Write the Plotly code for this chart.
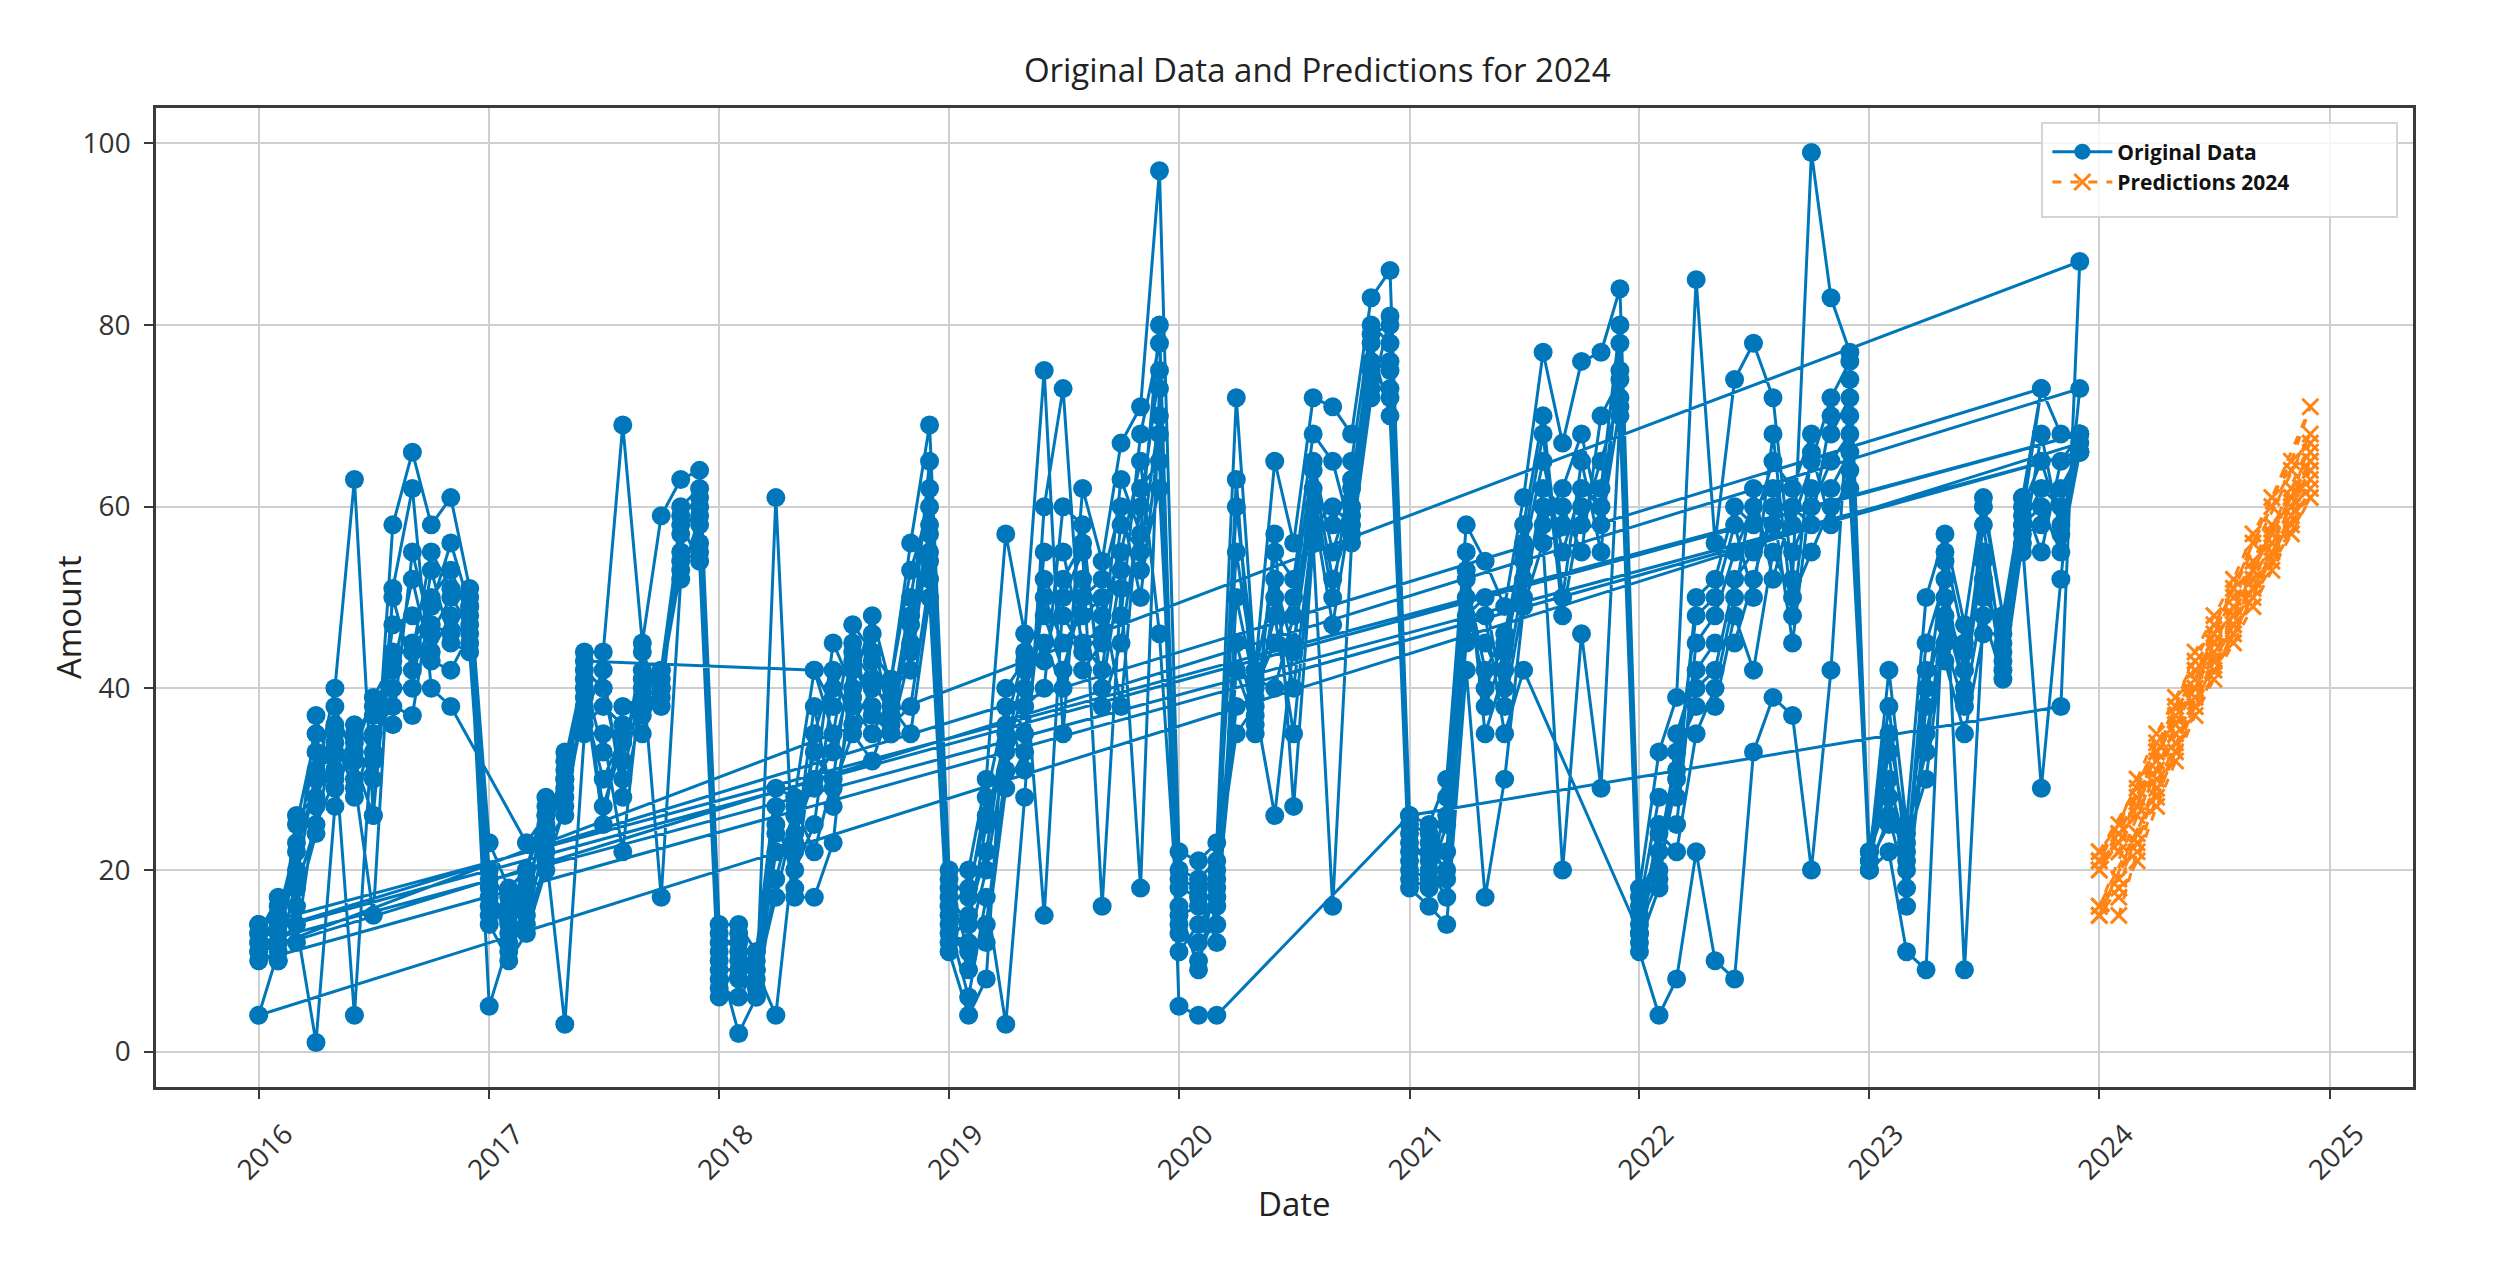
import pandas as pd
import plotly.graph_objects as go

N = None

# Monthly dates of the original data (2016-01 .. 2023-12) and of the 2024 predictions
months = pd.date_range("2016-01-01", "2023-12-01", freq="MS")
pred_months = pd.date_range("2024-01-01", "2024-12-01", freq="MS")

# Original data, one list per group (96 monthly values, None = month missing)
group_01 = [12, 14, 22, 30, 40, 63, 26, 58, 66, 58, 61, 51,
            23, 18, 20, 28, 28, 44, 44, 69, 45, 59, 63, 64,
            14, 14, 11, 29, 28, 42, 35, 47, 44, 41, 56, 69,
            20, 20, 30, 57, 46, 75, 35, 62, 54, 67, 71, 97,
            22, 21, 23, 72, 42, 65, 56, 72, 71, 68, 83, 86,
            26, 25, 30, 58, 54, 49, 61, 77, 67, 76, 77, 84,
            18, 33, 39, 85, 56, 74, 78, 72, 52, 99, 83, 77,
            21, 42, 25, 50, 57, 47, 61, 48, 61, 73, 68, 68]
group_02 = [13, 16, 18, 25, 30, 33, 39, 43, 45, 49, 56, 49,
            18, 14, 16, 22, 3, 35, 35, 22, 42, 17, 52, 59,
            10, 2, 6, 61, 17, 17, 23, 43, 38, 35, 48, 54,
            14, 6, 17, 3, 28, 60, 73, 42, 45, 63, 57, 80,
            11, 14, 17, 63, 35, 57, 27, 56, 16, 56, 72, 81,
            18, 16, 14, 42, 17, 30, 49, 56, 20, 46, 29, 70,
            11, 4, 8, 22, 10, 8, 33, 39, 37, 20, 42, 74,
            20, 22, 11, 9, 54, 9, 48, 41, 56, 29, 52, 73]
group_03 = [11, 10, 25, 35, 35, 30, 15, 51, 62, 40, 38, N,
            N, N, 23, 26, 30, 40, 25, 38, 39, 42, 58, 54,
            6, 10, 9, 4, 23, 33, 29, 35, 32, 38, 35, 50,
            11, 4, 8, 40, 43, 15, 50, 55, 16, 51, 18, 73,
            16, 9, 20, 35, 38, 26, 45, 60, 47, 60, 75, 76,
            20, 19, 25, 50, 40, 45, 55, 65, 55, 62, 60, 75,
            15, 20, 30, 40, 42, 52, 55, 58, 55, 60, 65, 68,
            22, 30, 22, 40, 48, 40, 55, 45, 58, 62, 60, 68]
group_04 = [14, 12, 14, 1, 27, 36, 33, 40, 40, 53, 45, 44,
            14, 10, 13, 20, 27, 38, 30, 35, 37, 40, 55, 56,
            12, 12, 8, 17, 26, 29, 45, 40, 48, 40, 42, 58,
            17, 14, 25, 35, 35, 50, 45, 48, 50, 38, 62, 65,
            18, 17, 12, 50, 40, 45, 50, 65, 55, 62, 78, 70,
            22, 22, 20, 45, 45, 40, 52, 60, 58, 58, 65, 72,
            13, 25, 25, 45, 48, 55, 60, 62, 58, 65, 72, 76,
            20, 26, 18, 35, 45, 38, 50, 47, 60, 65, 58, 67]
group_05 = [4, 11, 26, 28, 33, 4, 37, 36, 55, 46, 50, 47,
            5, 12, 19, 24, 32, 42, 40, 30, 41, 38, 60, 62,
            8, 8, 10, 25, 20, 25, 40, 44, 41, 37, 50, 62,
            13, 12, 20, 33, 40, 45, 40, 52, 48, 55, 65, 46,
            13, 12, 14, 42, 36, 50, 40, 58, 60, 58, 73, 73,
            19, 18, 28, 55, 35, 42, 58, 70, 50, 65, 55, 78,
            17, 22, 33, 38, 38, 48, 42, 55, 50, 55, 60, 62,
            21, 35, 24, 33, 50, 42, 58, 43, 57, 58, 62, 66]
group_06 = [10, 13, 20, 37, 29, 34, 30, 47, 48, 44, 48, 45,
            20, 16, 17, 27, 29, 43, N, N, N, N, N, N,
            N, N, N, N, N, 42, 38, 38, 35, 39, 45, 55,
            19, 17, 28, 38, 31, 55, 55, 45, 42, 58, 55, 70,
            20, 19, 21, 55, 41, 40, 48, 62, 50, 65, 80, 78,
            24, 20, 17, 48, 50, 38, 50, 62, 60, 55, 70, 74,
            16, 28, 28, 50, 52, 60, 58, 65, 62, 68, 68, 72,
            22, 28, 20, 42, 43, 35, 46, 46, 59, 73, N, N]
group_07 = [13, 17, 16, 24, 36, 28, 35, 38, 37, 50, 53, 48,
            17, 13, 14, 21, 33, 36, 38, 36, 35, 41, 53, 58,
            13, 11, 7, 22, 24, 30, 33, 42, 46, 36, 38, 52,
            15, 9, 14, 31, 38, 40, 60, 58, 38, 45, 60, 75,
            15, 16, 18, 45, 37, 55, 52, 68, 65, 57, 74, 72,
            21, 23, 22, 52, 42, 46, 56, 68, 48, 60, 62, 80,
            12, 18, 35, 42, 45, 45, 52, 60, 45, 62, 62, 66,
            20, 33, 16, 38, 55, 45, 52, 44, 58, 60, 55, 66]
group_08 = [12, 15, 23, 33, 31, 35, 38, 42, 52, 43, 42, 46,
            15, 17, 18, 25, 31, 41, 33, 32, 44, 39, 57, 60,
            9, 9, 11, 27, 18, 35, 42, 36, 40, 41, 53, 60,
            12, 15, 22, 36, 44, 48, 42, 50, 52, 60, 50, 68,
            5, 4, 4, N, N, N, N, N, N, N, N, N,
            26, N, N, N, N, N, N, N, N, N, N, N,
            N, N, N, N, N, N, N, N, N, N, N, N,
            N, N, N, N, N, N, N, N, N, N, 38, 87]
group_09 = [11, 12, 12, 27, 38, 32, 26, 50, 42, 47, 46, 50,
            19, 11, 15, 23, 26, 39, 27, 34, 40, 42, 54, 55,
            11, 13, 6, 19, 27, 22, 30, 45, 37, 35, 44, 65,
            18, 11, 12, 29, 33, 52, 48, 44, 46, 48, 68, 78,
            14, 10, 16, 38, 39, 48, 35, 57, 58, 63, 76, 75,
            23, 21, 26, 47, 48, 35, 42, N, N, N, N, N,
            13, 24, 22, 35, 40, 50, 62, 52, 60, 58, 70, 70,
            21, 25, 23, 30, 47, 44, 54, 42, 61, 55, 65, 68]
group_10 = [14, 10, 19, 31, 34, 29, 32, 44, 44, 55, 51, 49,
            16, 15, 20, 26, 30, 37, 42, 28, 38, 40, 59, 61,
            7, 6, 9, 24, 22, 38, 27, 39, 43, 38, 47, 57,
            16, 18, 26, 34, 42, 43, 52, 56, 40, 53, 53, 62,
            19, 18, 19, 60, 42, 52, 44, 64, 52, 59, 79, 80,
            25, 24, 19, 53, 38, 44, 54, 58, 62, 68, 58, 71,
            14, 19, 31, 48, 50, 58, 50, 68, 48, 66, 58, 64,
            22, 38, 21, 45, 52, 39, 60, 48, 55, 68, 57, 66]

# 2024 predictions, one list per group (12 monthly values)
pred_01 = [22, 24, 28, 33, 37, 42, 45, 49, 53, 57, 62, 66]
pred_02 = [20, 23, 27, 32, 38, 41, 46, 50, 54, 58, 61, 65]
pred_03 = [21, 22, 29, 34, 36, 40, 44, 48, 52, 56, 60, 64]
pred_04 = [15, 18, 24, 30, 35, 39, 43, 47, 51, 55, 59, 63]
pred_05 = [16, 15, 22, 28, 33, 38, 42, 46, 50, 54, 58, 62]
pred_06 = [22, 25, 30, 35, 39, 43, 47, 51, 56, 60, 64, 68]
pred_07 = [21, 24, 26, 31, 36, 40, 45, 48, 53, 57, 61, 67]
pred_08 = [15, 17, 21, 27, 32, 37, 41, 45, 49, 53, 57, 61]
pred_09 = [20, 22, 27, 33, 38, 44, 48, 52, 57, 61, 65, 71]
pred_10 = [16, 19, 23, 29, 34, 38, 43, 47, 52, 56, 60, 65]

year_ticks = ["2016", "2017", "2018", "2019", "2020", "2021", "2022", "2023", "2024", "2025"]
amount_ticks = [0, 20, 40, 60, 80, 100]

groups = [group_01, group_02, group_03, group_04, group_05,
          group_06, group_07, group_08, group_09, group_10]
preds = [pred_01, pred_02, pred_03, pred_04, pred_05,
         pred_06, pred_07, pred_08, pred_09, pred_10]

x_orig, y_orig = [], []
for g in groups:
    assert len(g) == len(months)
    x_orig.extend(months)
    y_orig.extend(g)

x_pred, y_pred = [], []
for p in preds:
    x_pred.extend(pred_months)
    y_pred.extend(p)

BLUE = "#0077bb"
ORANGE = "#ff8414"
FONT = "Open Sans, Noto Sans, DejaVu Sans, sans-serif"

fig = go.Figure()
fig.add_trace(go.Scatter(
    x=x_orig, y=y_orig, mode="lines+markers", name="Original Data",
    connectgaps=True,
    line=dict(color=BLUE, width=3),
    marker=dict(symbol="circle", size=19, color=BLUE),
))
fig.add_trace(go.Scatter(
    x=x_pred, y=y_pred, mode="lines+markers", name="Predictions 2024",
    line=dict(color=ORANGE, width=3, dash="dash"),
    marker=dict(symbol="x-thin", size=16, color=ORANGE,
                line=dict(color=ORANGE, width=3)),
))

axis_common = dict(
    showgrid=True, gridcolor="#cfcfcf", gridwidth=2,
    showline=True, linecolor="#3a3a3a", linewidth=2.5, mirror=True,
    ticks="outside", ticklen=9, tickwidth=2, tickcolor="#3a3a3a",
    tickfont=dict(family=FONT, size=28, color="#333333"),
    zeroline=False,
)

fig.update_layout(
    width=2489, height=1267,
    margin=dict(l=148, r=84, t=100, b=188),
    paper_bgcolor="white", plot_bgcolor="white",
    font=dict(family=FONT, color="#222222"),
    title=dict(text="Original Data and Predictions for 2024",
               x=0.526, xanchor="center", y=0.951, yanchor="middle",
               font=dict(family=FONT, size=33, color="#222222")),
    xaxis=dict(
        type="date",
        range=["2015-07-22", "2025-05-13"],
        tickvals=[f"{y}-01-01" for y in year_ticks],
        ticktext=year_ticks,
        tickangle=-45,
        ticklabelshift=26,
        ticklabelstandoff=8,
        **axis_common,
    ),
    yaxis=dict(
        range=[-3.9, 103.9],
        tickvals=amount_ticks,
        ticklabelstandoff=8,
        **axis_common,
    ),
    showlegend=True,
    legend=dict(
        x=0.838, xanchor="left", y=0.976, yanchor="top",
        bgcolor="rgba(0,0,0,0)", borderwidth=0,
        font=dict(family=FONT, size=21, color="#111111", weight="bold"),
        itemwidth=60,
    ),
    shapes=[
        dict(type="rect", xref="paper", yref="paper",
             x0=0.8356, x1=0.9929, y0=0.8887, y1=0.9847,
             fillcolor="rgba(255,255,255,0.8)",
             line=dict(color="#d4d4d4", width=2), layer="above"),
    ],
    annotations=[
        dict(text="Date", xref="paper", yref="paper", x=0.5046, y=-0.1185,
             xanchor="center", yanchor="middle", showarrow=False,
             font=dict(family=FONT, size=33, color="#222222")),
        dict(text="Amount", xref="paper", yref="paper", x=-0.039, y=0.480,
             xanchor="center", yanchor="middle", showarrow=False, textangle=-90,
             font=dict(family=FONT, size=33, color="#222222")),
    ],
)

fig.write_html("out.html")
